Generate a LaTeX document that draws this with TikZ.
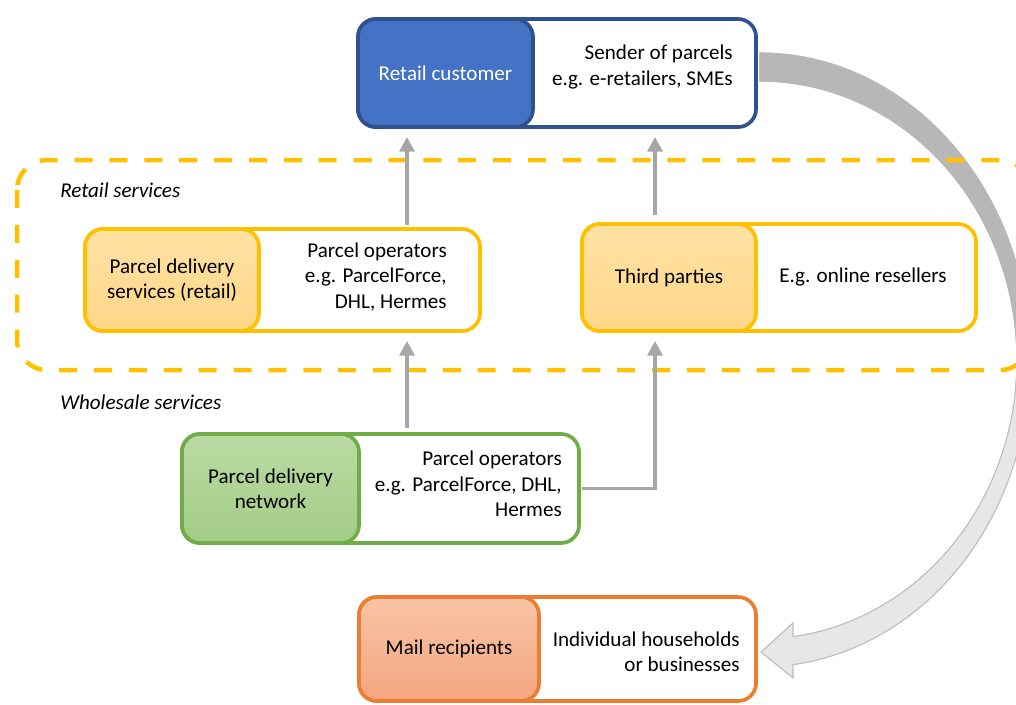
\documentclass[tikz,border=0pt]{standalone}
\usepackage{fontspec}
\setmainfont{Carlito}
\usetikzlibrary{arrows.meta}

\definecolor{blueline}{HTML}{2F528F}
\definecolor{bluefill}{HTML}{4472C4}
\definecolor{goldline}{HTML}{FFC000}
\definecolor{goldtop}{HTML}{FFE2A3}
\definecolor{goldbot}{HTML}{FFD788}
\definecolor{greenline}{HTML}{70AD47}
\definecolor{greentop}{HTML}{BADBA4}
\definecolor{greenbot}{HTML}{A3CC87}
\definecolor{orangeline}{HTML}{ED7D31}
\definecolor{orangetop}{HTML}{F8C4A6}
\definecolor{orangebot}{HTML}{F4A680}
\definecolor{flowgray}{HTML}{A6A6A6}
\definecolor{benddark}{HTML}{B7B7B7}
\definecolor{bendlight}{HTML}{E7E7E7}
\definecolor{bendline}{HTML}{BDBDBD}

\tikzset{
  outerbox/.style={draw, line width=2.6pt, rounded corners=0.45cm, fill=white, inner sep=0pt},
  innerbox/.style={draw, line width=2.6pt, rounded corners=0.45cm, inner sep=0pt, align=center},
  note/.style={align=right, anchor=east, inner sep=0pt},
  zonetext/.style={anchor=west, inner sep=0pt, font=\fontsize{15}{18}\selectfont\itshape},
  flow/.style={draw=flowgray, line width=2.8pt, -{Triangle[length=10.5pt,width=10.5pt]}},
  retailzone/.style={draw=goldline, line width=3.2pt, rounded corners=0.75cm, dash pattern=on 12.8pt off 12pt}
}

\begin{document}
\begin{tikzpicture}[x=0.025cm, y=-0.025cm, font=\fontsize{15}{18}\selectfont]
    \useasboundingbox (0,0) rectangle (1016,704);
    \clip (0,0) rectangle (1016,704);

    % curved arrow from the customer down to the recipients
    \path[fill=bendlight, draw=bendline, line width=0.8pt]
        plot[domain=90:-83, samples=80] ({760+270*cos(\x)}, {360-307*sin(\x)})
        -- (793,678) -- (761,652) -- (793,623) -- (793,636)
        -- plot[domain=-82.6:90, samples=80] ({760+257*cos(\x)}, {360-279*sin(\x)}) -- cycle;
    \path[fill=benddark, draw=benddark, line width=0.8pt]
        plot[domain=90:-5, samples=60] ({760+270*cos(\x)}, {360-307*sin(\x)})
        -- plot[domain=-5:90, samples=60] ({760+257*cos(\x)}, {360-279*sin(\x)}) -- cycle;

    \draw[retailzone] (17,160) rectangle (1030,370);

    \node[zonetext] (retaillabel) at (60,190) {Retail services};
    \node[zonetext] (wholesalelabel) at (60,402) {Wholesale services};

    % retail customer
    \node[outerbox, draw=blueline, minimum width=9.95cm, minimum height=2.7cm] (custbox) at (557,73) {};
    \node[innerbox, draw=blueline, fill=bluefill, text=white, minimum width=4.375cm, minimum height=2.7cm] (cust) at (445.5,73) {Retail customer};
    \node[note] (custnote) at (733,67) {Sender of parcels\\e.g. e-retailers, SMEs};

    % parcel delivery services (retail)
    \node[outerbox, draw=goldline, minimum width=9.875cm, minimum height=2.55cm] (pdsbox) at (282.5,280) {};
    \node[innerbox, draw=goldline, top color=goldtop, bottom color=goldbot, minimum width=4.35cm, minimum height=2.55cm] (pds) at (172,280) {Parcel delivery\\services (retail)};
    \node[note] (pdsnote) at (447,277) {Parcel operators\\e.g. ParcelForce,\\DHL, Hermes};

    % third parties
    \node[outerbox, draw=goldline, minimum width=9.85cm, minimum height=2.675cm] (thirdbox) at (779,277.5) {};
    \node[innerbox, draw=goldline, top color=goldtop, bottom color=goldbot, minimum width=4.35cm, minimum height=2.675cm] (third) at (669,277.5) {Third parties};
    \node[note] (thirdnote) at (947,277) {E.g. online resellers};

    % parcel delivery network
    \node[outerbox, draw=greenline, minimum width=9.925cm, minimum height=2.725cm] (netbox) at (380.5,488.5) {};
    \node[innerbox, draw=greenline, top color=greentop, bottom color=greenbot, minimum width=4.425cm, minimum height=2.725cm] (net) at (270.5,488.5) {Parcel delivery\\network};
    \node[note] (netnote) at (562,484) {Parcel operators\\e.g. ParcelForce, DHL,\\Hermes};

    % mail recipients
    \node[outerbox, draw=orangeline, minimum width=9.925cm, minimum height=2.6cm] (mailbox) at (557.5,649) {};
    \node[innerbox, draw=orangeline, top color=orangetop, bottom color=orangebot, minimum width=4.5cm, minimum height=2.6cm] (mail) at (449,649) {Mail recipients};
    \node[note] (mailnote) at (740,652) {Individual households\\or businesses};

    % flows
    \coordinate (colL) at (407,0);
    \coordinate (colR) at (655,0);
    \draw[flow, shorten <=1.3pt, shorten >=5.7pt] (pdsbox.north -| colL) -- (custbox.south -| colL);
    \draw[flow, shorten <=5pt, shorten >=5.7pt] (thirdbox.north -| colR) -- (custbox.south -| colR);
    \draw[flow, shorten <=2.8pt, shorten >=5.7pt] (netbox.north -| colL) -- (pdsbox.south -| colL);
    \draw[flow, shorten <=1pt, shorten >=5.7pt] (netbox.east) -| (thirdbox.south -| colR);
\end{tikzpicture}
\end{document}
